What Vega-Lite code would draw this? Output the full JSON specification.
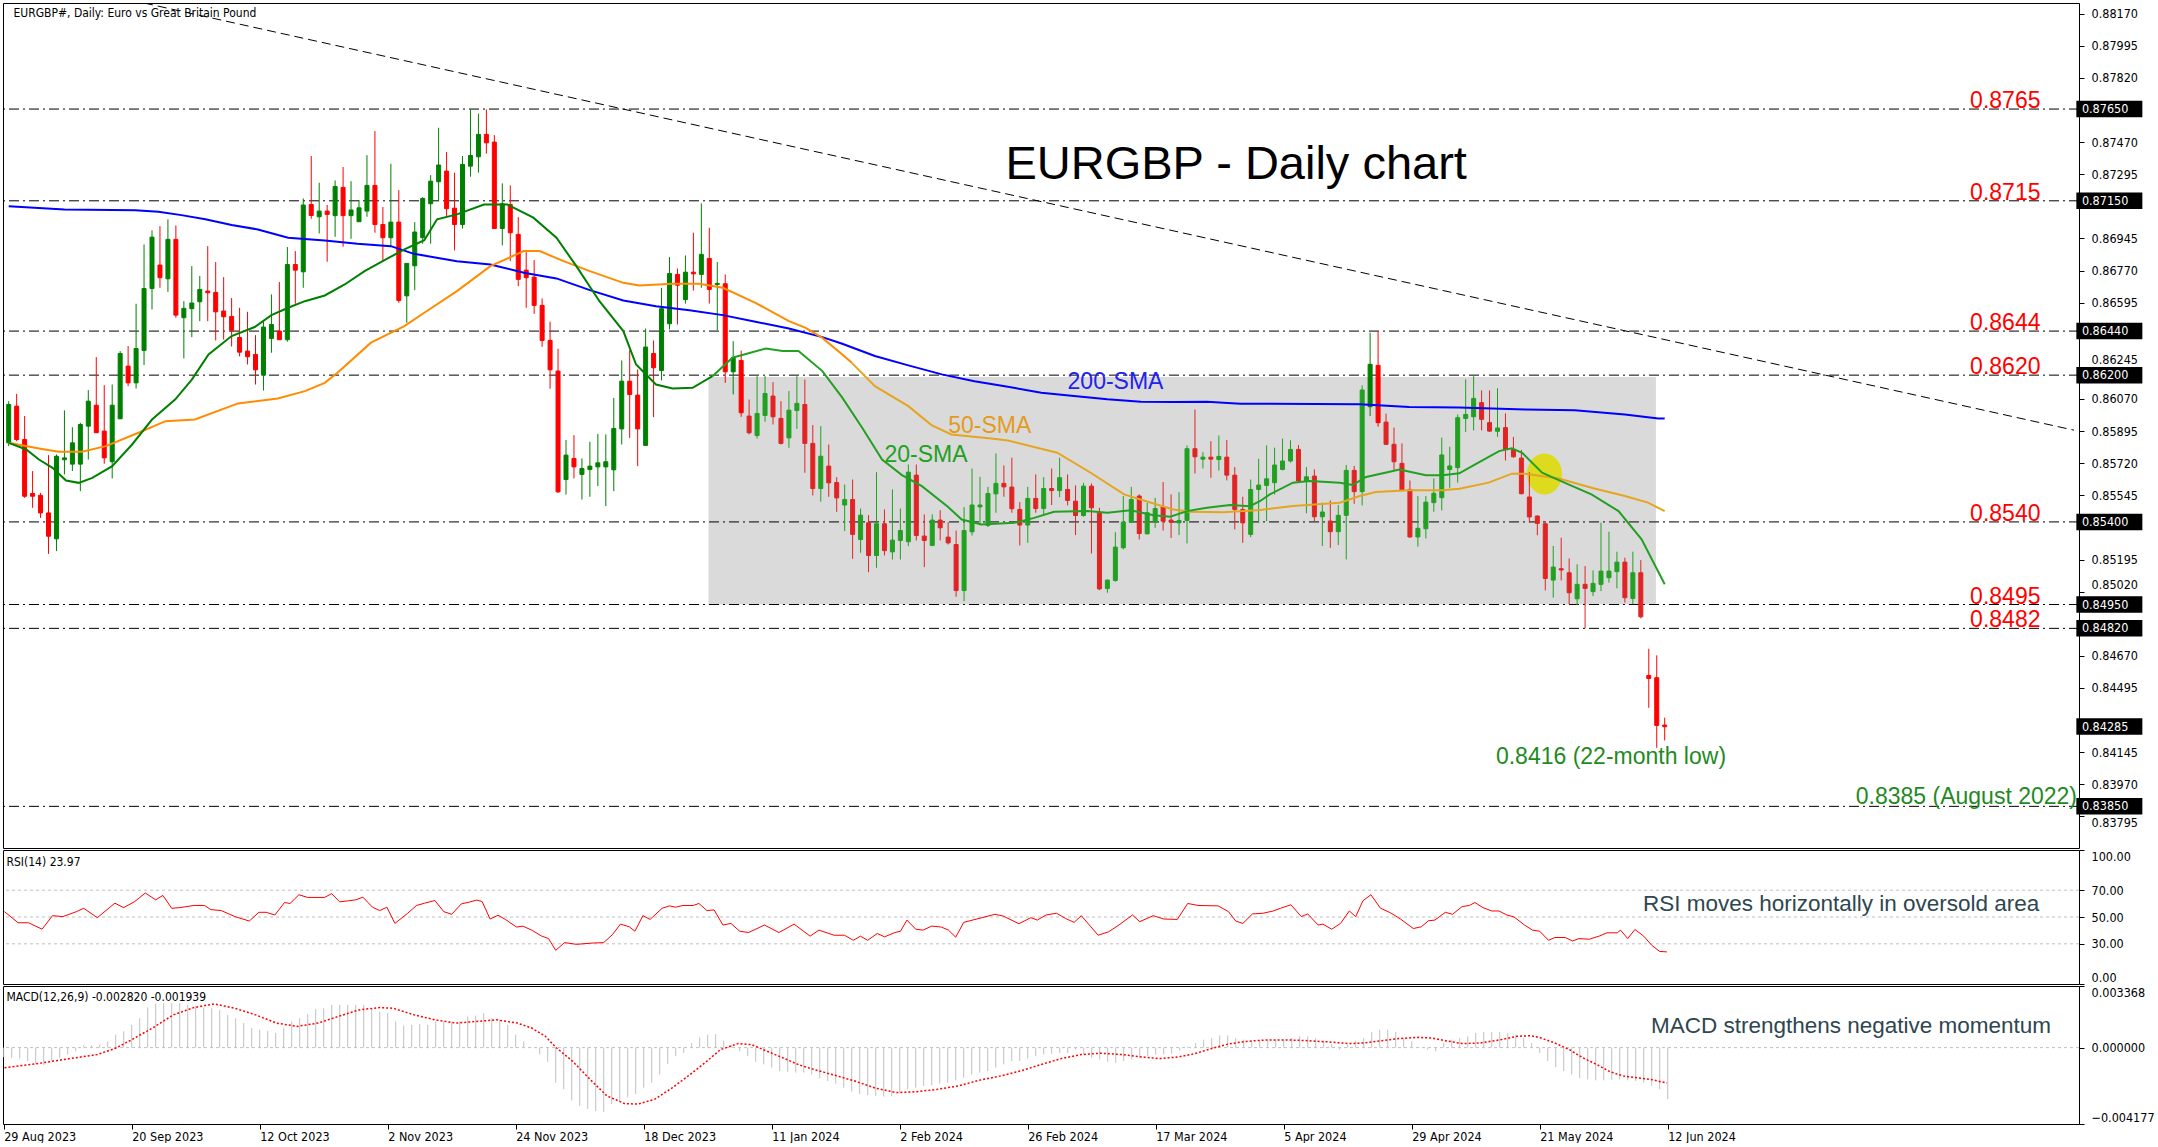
{
"$schema": "https://vega.github.io/schema/vega-lite/v6.json",
"padding": {"left": 2, "top": 2, "right": 0, "bottom": 0},
"background": "white",
"spacing": 2,
"bounds": "flush",
"config": {
 "view": {"stroke": "#000000", "strokeWidth": 1},
 "axis": {"labelFont": "DejaVu Sans Condensed, Liberation Sans Narrow, sans-serif", "labelFontSize": 12.5, "labelColor": "#000000", "tickColor": "#000000", "tickSize": 5, "labelPadding": 7, "domain": false, "grid": false, "labelOverlap": false, "labelBound": false},
 "text": {"font": "Liberation Sans"}
},
"datasets": {
 "c": [
{"i":0,"o":0.85831,"h":0.86058,"l":0.85813,"c":0.86040},{"i":1,"o":0.86031,"h":0.86098,"l":0.85840,"c":0.85849},{"i":2,"o":0.85849,"h":0.85977,"l":0.85531,"c":0.85540},{"i":3,"o":0.85555,"h":0.85677,"l":0.85477,"c":0.85540},{"i":4,"o":0.85545,"h":0.85558,"l":0.85422,"c":0.85449},
{"i":5,"o":0.85449,"h":0.85764,"l":0.85226,"c":0.85322},{"i":6,"o":0.85308,"h":0.85768,"l":0.85241,"c":0.85758},{"i":7,"o":0.85739,"h":0.86008,"l":0.85659,"c":0.85749},{"i":8,"o":0.85715,"h":0.85916,"l":0.85677,"c":0.85831},{"i":9,"o":0.85715,"h":0.85940,"l":0.85568,"c":0.85931},
{"i":10,"o":0.85922,"h":0.86118,"l":0.85740,"c":0.86058},{"i":11,"o":0.86036,"h":0.86298,"l":0.85886,"c":0.85886},{"i":12,"o":0.85895,"h":0.86145,"l":0.85717,"c":0.85749},{"i":13,"o":0.85728,"h":0.86149,"l":0.85637,"c":0.86036},{"i":14,"o":0.85962,"h":0.86331,"l":0.85962,"c":0.86318},
{"i":15,"o":0.86249,"h":0.86358,"l":0.86140,"c":0.86158},{"i":16,"o":0.86158,"h":0.86589,"l":0.86127,"c":0.86345},{"i":17,"o":0.86335,"h":0.86912,"l":0.86255,"c":0.86672},{"i":18,"o":0.86672,"h":0.86989,"l":0.86558,"c":0.86952},{"i":19,"o":0.86800,"h":0.87012,"l":0.86676,"c":0.86731},
{"i":20,"o":0.86725,"h":0.87049,"l":0.86654,"c":0.86940},{"i":21,"o":0.86940,"h":0.87016,"l":0.86513,"c":0.86527},{"i":22,"o":0.86513,"h":0.86603,"l":0.86291,"c":0.86564},{"i":23,"o":0.86562,"h":0.86794,"l":0.86407,"c":0.86593},{"i":24,"o":0.86600,"h":0.86740,"l":0.86494,"c":0.86667},
{"i":25,"o":0.86658,"h":0.86903,"l":0.86494,"c":0.86649},{"i":26,"o":0.86651,"h":0.86816,"l":0.86389,"c":0.86545},{"i":27,"o":0.86549,"h":0.86734,"l":0.86394,"c":0.86518},{"i":28,"o":0.86520,"h":0.86620,"l":0.86356,"c":0.86445},{"i":29,"o":0.86405,"h":0.86567,"l":0.86302,"c":0.86325},
{"i":30,"o":0.86331,"h":0.86545,"l":0.86258,"c":0.86300},{"i":31,"o":0.86313,"h":0.86418,"l":0.86149,"c":0.86229},{"i":32,"o":0.86200,"h":0.86498,"l":0.86116,"c":0.86462},{"i":33,"o":0.86400,"h":0.86640,"l":0.86322,"c":0.86476},{"i":34,"o":0.86440,"h":0.86707,"l":0.86393,"c":0.86393},
{"i":35,"o":0.86393,"h":0.86898,"l":0.86382,"c":0.86803},{"i":36,"o":0.86803,"h":0.86876,"l":0.86589,"c":0.86772},{"i":37,"o":0.86763,"h":0.87163,"l":0.86676,"c":0.87127},{"i":38,"o":0.87130,"h":0.87394,"l":0.87052,"c":0.87070},{"i":39,"o":0.87063,"h":0.87248,"l":0.86972,"c":0.87094},
{"i":40,"o":0.87094,"h":0.87127,"l":0.86818,"c":0.87076},{"i":41,"o":0.87069,"h":0.87261,"l":0.86954,"c":0.87228},{"i":42,"o":0.87223,"h":0.87334,"l":0.86900,"c":0.87069},{"i":43,"o":0.87069,"h":0.87257,"l":0.86943,"c":0.87100},{"i":44,"o":0.87036,"h":0.87154,"l":0.87036,"c":0.87112},
{"i":45,"o":0.87094,"h":0.87399,"l":0.87063,"c":0.87234},{"i":46,"o":0.87234,"h":0.87530,"l":0.86976,"c":0.87021},{"i":47,"o":0.87021,"h":0.87116,"l":0.86825,"c":0.86949},{"i":48,"o":0.86949,"h":0.87352,"l":0.86903,"c":0.87034},{"i":49,"o":0.87034,"h":0.87208,"l":0.86594,"c":0.86607},
{"i":50,"o":0.86632,"h":0.86809,"l":0.86485,"c":0.86809},{"i":51,"o":0.86796,"h":0.87034,"l":0.86663,"c":0.86980},{"i":52,"o":0.86949,"h":0.87170,"l":0.86916,"c":0.87163},{"i":53,"o":0.87134,"h":0.87290,"l":0.86916,"c":0.87257},{"i":54,"o":0.87254,"h":0.87548,"l":0.87148,"c":0.87345},
{"i":55,"o":0.87312,"h":0.87416,"l":0.87063,"c":0.87107},{"i":56,"o":0.87110,"h":0.87303,"l":0.86880,"c":0.87021},{"i":57,"o":0.87021,"h":0.87394,"l":0.86999,"c":0.87348},{"i":58,"o":0.87339,"h":0.87648,"l":0.87281,"c":0.87397},{"i":59,"o":0.87390,"h":0.87625,"l":0.87303,"c":0.87512},
{"i":60,"o":0.87512,"h":0.87648,"l":0.87407,"c":0.87466},{"i":61,"o":0.87470,"h":0.87508,"l":0.86999,"c":0.86999},{"i":62,"o":0.86999,"h":0.87245,"l":0.86907,"c":0.87134},{"i":63,"o":0.87130,"h":0.87234,"l":0.86821,"c":0.86976},{"i":64,"o":0.86967,"h":0.87061,"l":0.86685,"c":0.86722},
{"i":65,"o":0.86772,"h":0.86872,"l":0.86567,"c":0.86731},{"i":66,"o":0.86734,"h":0.86827,"l":0.86534,"c":0.86580},{"i":67,"o":0.86580,"h":0.86618,"l":0.86354,"c":0.86389},{"i":68,"o":0.86389,"h":0.86491,"l":0.86126,"c":0.86229},{"i":69,"o":0.86222,"h":0.86344,"l":0.85558,"c":0.85564},
{"i":70,"o":0.85631,"h":0.85846,"l":0.85549,"c":0.85764},{"i":71,"o":0.85746,"h":0.85873,"l":0.85637,"c":0.85700},{"i":72,"o":0.85659,"h":0.85746,"l":0.85522,"c":0.85691},{"i":73,"o":0.85686,"h":0.85837,"l":0.85537,"c":0.85704},{"i":74,"o":0.85700,"h":0.85880,"l":0.85595,"c":0.85722},
{"i":75,"o":0.85700,"h":0.85877,"l":0.85486,"c":0.85728},{"i":76,"o":0.85684,"h":0.86076,"l":0.85568,"c":0.85909},{"i":77,"o":0.85907,"h":0.86280,"l":0.85822,"c":0.86167},{"i":78,"o":0.86167,"h":0.86336,"l":0.85858,"c":0.86094},{"i":79,"o":0.86091,"h":0.86231,"l":0.85704,"c":0.85907},
{"i":80,"o":0.85817,"h":0.86454,"l":0.85817,"c":0.86353},{"i":81,"o":0.86318,"h":0.86389,"l":0.85971,"c":0.86240},{"i":82,"o":0.86225,"h":0.86676,"l":0.86171,"c":0.86562},{"i":83,"o":0.86480,"h":0.86843,"l":0.86449,"c":0.86754},{"i":84,"o":0.86749,"h":0.86781,"l":0.86476,"c":0.86690},
{"i":85,"o":0.86612,"h":0.86852,"l":0.86590,"c":0.86761},{"i":86,"o":0.86761,"h":0.86976,"l":0.86661,"c":0.86752},{"i":87,"o":0.86749,"h":0.87136,"l":0.86676,"c":0.86858},{"i":88,"o":0.86836,"h":0.87003,"l":0.86590,"c":0.86667},{"i":89,"o":0.86694,"h":0.86816,"l":0.86445,"c":0.86700},
{"i":90,"o":0.86698,"h":0.86749,"l":0.86158,"c":0.86218},{"i":91,"o":0.86218,"h":0.86385,"l":0.86095,"c":0.86295},{"i":92,"o":0.86280,"h":0.86334,"l":0.85973,"c":0.85995},{"i":93,"o":0.85977,"h":0.86067,"l":0.85877,"c":0.85886},{"i":94,"o":0.85871,"h":0.86195,"l":0.85855,"c":0.85991},
{"i":95,"o":0.85980,"h":0.86195,"l":0.85946,"c":0.86100},{"i":96,"o":0.86086,"h":0.86162,"l":0.85931,"c":0.85973},{"i":97,"o":0.85964,"h":0.86058,"l":0.85822,"c":0.85828},{"i":98,"o":0.85858,"h":0.86113,"l":0.85804,"c":0.86009},{"i":99,"o":0.86007,"h":0.86195,"l":0.85907,"c":0.86046},
{"i":100,"o":0.86040,"h":0.86176,"l":0.85668,"c":0.85828},{"i":101,"o":0.85828,"h":0.85928,"l":0.85544,"c":0.85582},{"i":102,"o":0.85582,"h":0.85922,"l":0.85510,"c":0.85758},{"i":103,"o":0.85704,"h":0.85822,"l":0.85537,"c":0.85613},{"i":104,"o":0.85615,"h":0.85644,"l":0.85455,"c":0.85531},
{"i":105,"o":0.85492,"h":0.85604,"l":0.85350,"c":0.85522},{"i":106,"o":0.85522,"h":0.85631,"l":0.85199,"c":0.85332},{"i":107,"o":0.85304,"h":0.85473,"l":0.85232,"c":0.85437},{"i":108,"o":0.85395,"h":0.85437,"l":0.85126,"c":0.85217},{"i":109,"o":0.85217,"h":0.85671,"l":0.85150,"c":0.85390},
{"i":110,"o":0.85390,"h":0.85468,"l":0.85217,"c":0.85244},{"i":111,"o":0.85237,"h":0.85577,"l":0.85195,"c":0.85301},{"i":112,"o":0.85299,"h":0.85473,"l":0.85195,"c":0.85353},{"i":113,"o":0.85292,"h":0.85713,"l":0.85268,"c":0.85671},{"i":114,"o":0.85655,"h":0.85713,"l":0.85299,"c":0.85326},
{"i":115,"o":0.85323,"h":0.85441,"l":0.85154,"c":0.85299},{"i":116,"o":0.85272,"h":0.85441,"l":0.85268,"c":0.85410},{"i":117,"o":0.85410,"h":0.85464,"l":0.85299,"c":0.85368},{"i":118,"o":0.85317,"h":0.85399,"l":0.85277,"c":0.85286},{"i":119,"o":0.85277,"h":0.85353,"l":0.84992,"c":0.85026},
{"i":120,"o":0.85026,"h":0.85481,"l":0.84968,"c":0.85353},{"i":121,"o":0.85346,"h":0.85691,"l":0.85326,"c":0.85492},{"i":122,"o":0.85482,"h":0.85646,"l":0.85381,"c":0.85492},{"i":123,"o":0.85381,"h":0.85591,"l":0.85372,"c":0.85555},{"i":124,"o":0.85553,"h":0.85773,"l":0.85450,"c":0.85610},
{"i":125,"o":0.85610,"h":0.85708,"l":0.85537,"c":0.85591},{"i":126,"o":0.85590,"h":0.85750,"l":0.85450,"c":0.85472},{"i":127,"o":0.85468,"h":0.85508,"l":0.85272,"c":0.85383},{"i":128,"o":0.85383,"h":0.85591,"l":0.85286,"c":0.85528},{"i":129,"o":0.85528,"h":0.85659,"l":0.85450,"c":0.85473},
{"i":130,"o":0.85473,"h":0.85644,"l":0.85435,"c":0.85582},{"i":131,"o":0.85582,"h":0.85691,"l":0.85492,"c":0.85571},{"i":132,"o":0.85571,"h":0.85750,"l":0.85535,"c":0.85641},{"i":133,"o":0.85577,"h":0.85659,"l":0.85490,"c":0.85517},{"i":134,"o":0.85513,"h":0.85599,"l":0.85328,"c":0.85435},
{"i":135,"o":0.85435,"h":0.85613,"l":0.85428,"c":0.85595},{"i":136,"o":0.85595,"h":0.85610,"l":0.85228,"c":0.85477},{"i":137,"o":0.85450,"h":0.85477,"l":0.85028,"c":0.85035},{"i":138,"o":0.85037,"h":0.85086,"l":0.85014,"c":0.85083},{"i":139,"o":0.85081,"h":0.85344,"l":0.85074,"c":0.85263},
{"i":140,"o":0.85259,"h":0.85541,"l":0.85250,"c":0.85399},{"i":141,"o":0.85399,"h":0.85591,"l":0.85395,"c":0.85522},{"i":142,"o":0.85541,"h":0.85550,"l":0.85304,"c":0.85337},{"i":143,"o":0.85335,"h":0.85504,"l":0.85332,"c":0.85450},{"i":144,"o":0.85399,"h":0.85531,"l":0.85368,"c":0.85473},
{"i":145,"o":0.85482,"h":0.85617,"l":0.85353,"c":0.85404},{"i":146,"o":0.85410,"h":0.85550,"l":0.85313,"c":0.85399},{"i":147,"o":0.85395,"h":0.85562,"l":0.85328,"c":0.85408},{"i":148,"o":0.85408,"h":0.85817,"l":0.85283,"c":0.85799},{"i":149,"o":0.85799,"h":0.86013,"l":0.85664,"c":0.85755},
{"i":150,"o":0.85742,"h":0.85780,"l":0.85691,"c":0.85753},{"i":151,"o":0.85753,"h":0.85840,"l":0.85641,"c":0.85742},{"i":152,"o":0.85740,"h":0.85871,"l":0.85680,"c":0.85757},{"i":153,"o":0.85753,"h":0.85846,"l":0.85626,"c":0.85655},{"i":154,"o":0.85655,"h":0.85699,"l":0.85359,"c":0.85468},
{"i":155,"o":0.85468,"h":0.85537,"l":0.85286,"c":0.85395},{"i":156,"o":0.85332,"h":0.85631,"l":0.85317,"c":0.85577},{"i":157,"o":0.85577,"h":0.85744,"l":0.85395,"c":0.85601},{"i":158,"o":0.85599,"h":0.85817,"l":0.85404,"c":0.85635},{"i":159,"o":0.85614,"h":0.85805,"l":0.85550,"c":0.85710},
{"i":160,"o":0.85686,"h":0.85854,"l":0.85681,"c":0.85732},{"i":161,"o":0.85732,"h":0.85845,"l":0.85723,"c":0.85795},{"i":162,"o":0.85795,"h":0.85819,"l":0.85614,"c":0.85623},{"i":163,"o":0.85623,"h":0.85699,"l":0.85447,"c":0.85646},{"i":164,"o":0.85650,"h":0.85686,"l":0.85405,"c":0.85428},
{"i":165,"o":0.85428,"h":0.85505,"l":0.85269,"c":0.85454},{"i":166,"o":0.85405,"h":0.85517,"l":0.85259,"c":0.85347},{"i":167,"o":0.85347,"h":0.85492,"l":0.85274,"c":0.85436},{"i":168,"o":0.85436,"h":0.85710,"l":0.85196,"c":0.85681},{"i":169,"o":0.85681,"h":0.85705,"l":0.85499,"c":0.85565},
{"i":170,"o":0.85565,"h":0.86144,"l":0.85490,"c":0.86119},{"i":171,"o":0.86028,"h":0.86431,"l":0.85977,"c":0.86259},{"i":172,"o":0.86253,"h":0.86439,"l":0.85919,"c":0.85941},{"i":173,"o":0.85944,"h":0.85990,"l":0.85819,"c":0.85823},{"i":174,"o":0.85823,"h":0.85914,"l":0.85677,"c":0.85728},
{"i":175,"o":0.85719,"h":0.85828,"l":0.85574,"c":0.85574},{"i":176,"o":0.85577,"h":0.85626,"l":0.85314,"c":0.85318},{"i":177,"o":0.85318,"h":0.85541,"l":0.85265,"c":0.85365},{"i":178,"o":0.85363,"h":0.85541,"l":0.85310,"c":0.85508},{"i":179,"o":0.85505,"h":0.85637,"l":0.85456,"c":0.85556},
{"i":180,"o":0.85532,"h":0.85859,"l":0.85463,"c":0.85765},{"i":181,"o":0.85686,"h":0.85810,"l":0.85586,"c":0.85705},{"i":182,"o":0.85696,"h":0.85986,"l":0.85614,"c":0.85968},{"i":183,"o":0.85964,"h":0.86177,"l":0.85890,"c":0.85986},{"i":184,"o":0.85973,"h":0.86197,"l":0.85899,"c":0.86073},
{"i":185,"o":0.86050,"h":0.86117,"l":0.85899,"c":0.85959},{"i":186,"o":0.85941,"h":0.86117,"l":0.85890,"c":0.85895},{"i":187,"o":0.85894,"h":0.86128,"l":0.85864,"c":0.85912},{"i":188,"o":0.85914,"h":0.85992,"l":0.85735,"c":0.85795},{"i":189,"o":0.85795,"h":0.85863,"l":0.85750,"c":0.85755},
{"i":190,"o":0.85748,"h":0.85792,"l":0.85550,"c":0.85554},{"i":191,"o":0.85536,"h":0.85672,"l":0.85396,"c":0.85427},{"i":192,"o":0.85432,"h":0.85436,"l":0.85327,"c":0.85392},{"i":193,"o":0.85390,"h":0.85405,"l":0.85027,"c":0.85092},{"i":194,"o":0.85083,"h":0.85269,"l":0.84987,"c":0.85154},
{"i":195,"o":0.85145,"h":0.85314,"l":0.85081,"c":0.85138},{"i":196,"o":0.85123,"h":0.85201,"l":0.84951,"c":0.85014},{"i":197,"o":0.84981,"h":0.85169,"l":0.84947,"c":0.85060},{"i":198,"o":0.85060,"h":0.85159,"l":0.84820,"c":0.85038},{"i":199,"o":0.85020,"h":0.85136,"l":0.84996,"c":0.85065},
{"i":200,"o":0.85060,"h":0.85396,"l":0.85023,"c":0.85132},{"i":201,"o":0.85096,"h":0.85347,"l":0.85069,"c":0.85132},{"i":202,"o":0.85129,"h":0.85238,"l":0.85038,"c":0.85181},{"i":203,"o":0.85181,"h":0.85205,"l":0.84960,"c":0.84987},{"i":204,"o":0.84983,"h":0.85238,"l":0.84951,"c":0.85123},
{"i":205,"o":0.85123,"h":0.85192,"l":0.84874,"c":0.84883},{"i":206,"o":0.84563,"h":0.84709,"l":0.84387,"c":0.84547},{"i":207,"o":0.84551,"h":0.84673,"l":0.84169,"c":0.84291},{"i":208,"o":0.84293,"h":0.84333,"l":0.84209,"c":0.84284}
 ],
 "s200": [
{"i":0,"v":0.87121},{"i":7,"v":0.87103},{"i":15.9,"v":0.87098},{"i":18.8,"v":0.87090},{"i":21.7,"v":0.87072},{"i":24.7,"v":0.87049},{"i":28,"v":0.87018},{"i":31.3,"v":0.86994},{"i":35.1,"v":0.86949},{"i":39.7,"v":0.86934},{"i":43.8,"v":0.86916},{"i":48,"v":0.86903},{"i":50.9,"v":0.86861},{"i":53.4,"v":0.86843},
{"i":56.3,"v":0.86821},{"i":60.5,"v":0.86803},{"i":64.7,"v":0.86758},{"i":68.8,"v":0.86727},{"i":73,"v":0.86663},{"i":77.2,"v":0.86607},{"i":81.3,"v":0.86576},{"i":85.5,"v":0.86554},{"i":89.7,"v":0.86527},{"i":93.8,"v":0.86491},{"i":98,"v":0.86454},{"i":102.2,"v":0.86407},{"i":104.7,"v":0.86371},
{"i":108.8,"v":0.86304},{"i":113,"v":0.86253},{"i":117.2,"v":0.86204},{"i":121.3,"v":0.86167},{"i":125.5,"v":0.86137},{"i":129.7,"v":0.86104},{"i":133.8,"v":0.86086},{"i":138,"v":0.86068},{"i":142.2,"v":0.86055},{"i":146.3,"v":0.86053},{"i":150.5,"v":0.86055},{"i":154.7,"v":0.86044},{"i":158.4,"v":0.86044},
{"i":169.7,"v":0.86041},{"i":175.9,"v":0.86026},{"i":182.2,"v":0.86023},{"i":190.5,"v":0.86013},{"i":196.7,"v":0.86008},{"i":203,"v":0.85986},{"i":207.2,"v":0.85964},{"i":208,"v":0.85963}
 ],
 "s50": [
{"i":0,"v":0.85831},{"i":3.8,"v":0.85800},{"i":6.3,"v":0.85782},{"i":9.2,"v":0.85782},{"i":12.2,"v":0.85813},{"i":16.3,"v":0.85886},{"i":19.7,"v":0.85949},{"i":23.4,"v":0.85958},{"i":28.8,"v":0.86046},{"i":33.8,"v":0.86073},{"i":37.2,"v":0.86113},{"i":39.7,"v":0.86158},{"i":41.3,"v":0.86213},{"i":45.5,"v":0.86377},{"i":49.7,"v":0.86467},
{"i":52.2,"v":0.86540},{"i":56.3,"v":0.86658},{"i":60.5,"v":0.86794},{"i":64.7,"v":0.86876},{"i":66.7,"v":0.86876},{"i":69.7,"v":0.86821},{"i":73,"v":0.86767},{"i":77.2,"v":0.86703},{"i":79.2,"v":0.86689},{"i":83.4,"v":0.86698},{"i":86.7,"v":0.86698},{"i":89.7,"v":0.86676},{"i":93.8,"v":0.86594},{"i":98,"v":0.86494},{"i":100.1,"v":0.86458},{"i":102.2,"v":0.86403},{"i":104.7,"v":0.86313},{"i":105.9,"v":0.86267},
{"i":108.8,"v":0.86140},{"i":113,"v":0.86031},{"i":115.9,"v":0.85928},{"i":118.4,"v":0.85877},{"i":123.4,"v":0.85855},{"i":125.5,"v":0.85844},{"i":131.7,"v":0.85777},{"i":135.9,"v":0.85668},{"i":140.1,"v":0.85550},{"i":144.2,"v":0.85495},{"i":146.3,"v":0.85468},{"i":148.4,"v":0.85455},{"i":152.6,"v":0.85453},{"i":157.2,"v":0.85465},
{"i":161.3,"v":0.85487},{"i":167.2,"v":0.85505},{"i":169.7,"v":0.85541},{"i":171.7,"v":0.85563},{"i":175.9,"v":0.85572},{"i":180.1,"v":0.85572},{"i":182.2,"v":0.85581},{"i":185.9,"v":0.85614},{"i":188.8,"v":0.85663},{"i":190.5,"v":0.85663},{"i":194.7,"v":0.85637},{"i":198.8,"v":0.85586},{"i":203,"v":0.85541},{"i":205.9,"v":0.85505},{"i":208,"v":0.85459}
 ],
 "s20": [
{"i":0,"v":0.85831},{"i":2.2,"v":0.85795},{"i":3.8,"v":0.85740},{"i":5.5,"v":0.85695},{"i":7.2,"v":0.85626},{"i":8.8,"v":0.85613},{"i":10.5,"v":0.85640},{"i":13,"v":0.85704},{"i":15.5,"v":0.85822},{"i":18,"v":0.85958},{"i":20.9,"v":0.86067},{"i":23,"v":0.86176},{"i":25.1,"v":0.86313},{"i":28,"v":0.86413},{"i":30.9,"v":0.86462},{"i":33,"v":0.86527},{"i":35.1,"v":0.86567},{"i":37.2,"v":0.86603},{"i":39.7,"v":0.86634},{"i":42.2,"v":0.86694},{"i":44.7,"v":0.86767},{"i":47.6,"v":0.86836},{"i":49.7,"v":0.86885},
{"i":52.2,"v":0.86935},{"i":53.8,"v":0.87049},{"i":56.3,"v":0.87076},{"i":59.7,"v":0.87130},{"i":62.6,"v":0.87130},{"i":65.9,"v":0.87058},{"i":68.8,"v":0.86949},{"i":71.3,"v":0.86794},{"i":74.2,"v":0.86603},{"i":77.2,"v":0.86440},{"i":78.8,"v":0.86258},{"i":81.3,"v":0.86149},{"i":83.4,"v":0.86127},{"i":85.9,"v":0.86131},{"i":88.4,"v":0.86194},{"i":90.9,"v":0.86295},{"i":95.1,"v":0.86345},{"i":97.2,"v":0.86331},{"i":99.2,"v":0.86331},{"i":102.2,"v":0.86222},{"i":104.7,"v":0.86077},
{"i":107.2,"v":0.85913},{"i":109.7,"v":0.85740},{"i":112.2,"v":0.85655},{"i":114.7,"v":0.85595},{"i":118,"v":0.85481},{"i":119.7,"v":0.85413},{"i":122.2,"v":0.85386},{"i":126.3,"v":0.85395},{"i":128.8,"v":0.85422},{"i":131.3,"v":0.85455},{"i":135.5,"v":0.85459},{"i":138,"v":0.85450},{"i":140.9,"v":0.85464},{"i":143.8,"v":0.85437},{"i":145.9,"v":0.85428},{"i":148,"v":0.85459},{"i":150.5,"v":0.85477},{"i":153.4,"v":0.85492},{"i":155.9,"v":0.85486},{"i":157.2,"v":0.85514},
{"i":158.4,"v":0.85550},{"i":161.3,"v":0.85614},{"i":163.4,"v":0.85623},{"i":167.2,"v":0.85614},{"i":168.8,"v":0.85601},{"i":170.5,"v":0.85645},{"i":174.7,"v":0.85686},{"i":178,"v":0.85655},{"i":180.1,"v":0.85654},{"i":182.2,"v":0.85665},{"i":184.2,"v":0.85714},{"i":187.2,"v":0.85786},{"i":188.8,"v":0.85801},{"i":190.1,"v":0.85777},{"i":192.6,"v":0.85668},{"i":195.9,"v":0.85605},{"i":198.8,"v":0.85550},{"i":202.2,"v":0.85459},{"i":205.1,"v":0.85305},{"i":208,"v":0.85060}
 ],
 "rsi": [
{"i":0.1,"v":54.0},{"i":1.8,"v":45.7},{"i":3.1,"v":45.7},{"i":4.8,"v":40.9},{"i":6.1,"v":51.0},{"i":7.4,"v":50.3},{"i":9.1,"v":54.0},{"i":10,"v":56.5},{"i":11.7,"v":49.5},{"i":13.9,"v":60.3},{"i":15,"v":57.0},{"i":16.4,"v":61.6},{"i":17.7,"v":67.9},{"i":19,"v":62.8},{"i":19.9,"v":66.1},{"i":21,"v":56.5},{"i":22,"v":57.0},{"i":23.8,"v":58.6},{"i":25.1,"v":58.6},{"i":25.9,"v":55.5},{"i":27.2,"v":54.8},{"i":28.9,"v":50.3},{"i":30.7,"v":47.0},{"i":31.9,"v":53.5},{"i":32.8,"v":53.5},{"i":33.9,"v":51.5},{"i":35.1,"v":60.8},{"i":35.8,"v":60.1},{"i":36.9,"v":66.6},{"i":38,"v":64.6},{"i":40.1,"v":64.6},{"i":41,"v":67.4},{"i":42,"v":61.3},{"i":43.1,"v":62.1},{"i":44,"v":62.8},{"i":44.9,"v":64.8},{"i":46.1,"v":57.3},{"i":47,"v":54.8},{"i":47.9,"v":57.3},{"i":48.9,"v":45.2},
{"i":50.5,"v":52.8},{"i":51.6,"v":58.6},{"i":52.6,"v":60.3},{"i":53.9,"v":62.3},{"i":55,"v":54.0},{"i":56,"v":52.0},{"i":57.2,"v":59.8},{"i":58.2,"v":61.1},{"i":59.1,"v":62.6},{"i":59.8,"v":61.6},{"i":60.8,"v":48.5},{"i":61.8,"v":51.3},{"i":62.7,"v":48.2},{"i":64.1,"v":42.5},{"i":64.9,"v":43.2},{"i":66,"v":40.2},{"i":67.2,"v":35.9},{"i":68.1,"v":33.9},{"i":69,"v":25.1},{"i":70.1,"v":30.9},{"i":71.6,"v":29.6},{"i":73.7,"v":30.6},{"i":75,"v":30.9},{"i":76.1,"v":36.9},{"i":77.1,"v":44.7},{"i":78.2,"v":42.7},{"i":78.9,"v":39.4},{"i":79.9,"v":51.0},{"i":80.8,"v":48.2},{"i":82.3,"v":56.5},{"i":83.2,"v":58.3},{"i":84,"v":57.3},{"i":84.9,"v":58.6},{"i":86.2,"v":58.6},{"i":86.9,"v":60.1},{"i":87.9,"v":54.8},{"i":88.8,"v":55.3},{"i":89.9,"v":44.0},
{"i":90.9,"v":45.2},{"i":92,"v":39.4},{"i":93.1,"v":38.4},{"i":95.1,"v":44.0},{"i":96.9,"v":38.4},{"i":98.8,"v":44.7},{"i":100.8,"v":35.7},{"i":101.9,"v":40.2},{"i":103.8,"v":36.4},{"i":105.1,"v":36.4},{"i":106.2,"v":32.6},{"i":107.1,"v":35.7},{"i":108,"v":32.6},{"i":109.2,"v":37.7},{"i":110.1,"v":35.2},{"i":111.4,"v":38.4},{"i":112.1,"v":39.4},{"i":112.9,"v":47.7},{"i":114,"v":40.9},{"i":114.9,"v":40.2},{"i":116,"v":43.2},{"i":117.2,"v":42.5},{"i":118.1,"v":40.2},{"i":119,"v":34.9},{"i":120,"v":46.0},{"i":121.1,"v":47.7},{"i":122.3,"v":49.5},{"i":123.9,"v":52.0},{"i":124.9,"v":50.8},{"i":126.9,"v":45.0},{"i":128.4,"v":49.5},{"i":129.2,"v":47.7},{"i":130.3,"v":51.5},{"i":131.6,"v":52.8},{"i":132.7,"v":49.0},{"i":133.8,"v":46.0},
{"i":134.7,"v":51.0},{"i":136.8,"v":36.4},{"i":138.1,"v":38.9},{"i":139.4,"v":44.0},{"i":141.1,"v":51.5},{"i":142,"v":46.5},{"i":143.7,"v":51.0},{"i":145,"v":48.5},{"i":146.7,"v":48.2},{"i":148,"v":60.1},{"i":149.3,"v":58.6},{"i":151.8,"v":58.3},{"i":153.1,"v":54.0},{"i":154,"v":47.0},{"i":154.9,"v":45.2},{"i":156.1,"v":52.3},{"i":157.4,"v":52.8},{"i":158.7,"v":54.5},{"i":159.6,"v":56.5},{"i":160.9,"v":59.1},{"i":162.2,"v":50.3},{"i":163,"v":52.3},{"i":164.3,"v":44.0},{"i":164.9,"v":44.7},{"i":166,"v":40.9},{"i":167.1,"v":45.2},{"i":168.2,"v":54.5},{"i":169,"v":50.3},{"i":169.9,"v":62.1},{"i":170.9,"v":66.6},{"i":172.1,"v":56.5},{"i":173.3,"v":53.3},{"i":174.6,"v":48.5},{"i":176.2,"v":41.4},{"i":177.2,"v":42.7},{"i":178.1,"v":47.2},{"i":178.9,"v":47.7},{"i":180.2,"v":53.5},
{"i":181.1,"v":52.0},{"i":182.3,"v":57.8},{"i":183.2,"v":58.6},{"i":183.9,"v":60.8},{"i":184.9,"v":57.0},{"i":186,"v":54.5},{"i":186.9,"v":54.5},{"i":187.9,"v":51.5},{"i":188.8,"v":50.0},{"i":190.1,"v":44.0},{"i":191.1,"v":40.2},{"i":192,"v":39.4},{"i":193.1,"v":32.6},{"i":193.9,"v":34.7},{"i":195.2,"v":34.7},{"i":196.1,"v":32.1},{"i":196.9,"v":33.9},{"i":198.2,"v":33.4},{"i":199.5,"v":35.9},{"i":200.4,"v":38.2},{"i":201.7,"v":38.2},{"i":202.1,"v":40.2},{"i":203,"v":33.9},{"i":203.9,"v":40.7},{"i":205,"v":35.7},{"i":206,"v":28.9},{"i":207,"v":24.3},{"i":207.9,"v":23.97}
 ],
 "hist": [
{"i":0,"v":-0.00052},{"i":1,"v":-0.00056},{"i":2,"v":-0.00060},{"i":3,"v":-0.00074},{"i":4,"v":-0.00089},{"i":5,"v":-0.00096},{"i":6,"v":-0.00074},{"i":7,"v":-0.00056},{"i":8,"v":-0.00038},{"i":9,"v":-0.00020},{"i":10,"v":0.00013},{"i":11,"v":0.00013},{"i":12,"v":0.00016},{"i":13,"v":0.00034},{"i":14,"v":0.00071},{"i":15,"v":0.00089},{"i":16,"v":0.00125},{"i":17,"v":0.00161},{"i":18,"v":0.00219},{"i":19,"v":0.00242},{"i":20,"v":0.00242},{"i":21,"v":0.00242},{"i":22,"v":0.00242},{"i":23,"v":0.00233},{"i":24,"v":0.00228},{"i":25,"v":0.00219},{"i":26,"v":0.00215},{"i":27,"v":0.00206},{"i":28,"v":0.00179},{"i":29,"v":0.00161},
{"i":30,"v":0.00134},{"i":31,"v":0.00107},{"i":32,"v":0.00098},{"i":33,"v":0.00092},{"i":34,"v":0.00080},{"i":35,"v":0.00107},{"i":36,"v":0.00143},{"i":37,"v":0.00161},{"i":38,"v":0.00183},{"i":39,"v":0.00210},{"i":40,"v":0.00215},{"i":41,"v":0.00233},{"i":42,"v":0.00233},{"i":43,"v":0.00233},{"i":44,"v":0.00233},{"i":45,"v":0.00233},{"i":46,"v":0.00215},{"i":47,"v":0.00197},{"i":48,"v":0.00188},{"i":49,"v":0.00143},{"i":50,"v":0.00121},{"i":51,"v":0.00125},{"i":52,"v":0.00128},{"i":53,"v":0.00125},{"i":54,"v":0.00143},{"i":55,"v":0.00143},{"i":56,"v":0.00143},{"i":57,"v":0.00143},{"i":58,"v":0.00170},{"i":59,"v":0.00175},
{"i":60,"v":0.00188},{"i":61,"v":0.00161},{"i":62,"v":0.00152},{"i":63,"v":0.00125},{"i":64,"v":0.00071},{"i":65,"v":0.00034},{"i":66,"v":-0.00002},{"i":67,"v":-0.00038},{"i":68,"v":-0.00078},{"i":69,"v":-0.00192},{"i":70,"v":-0.00228},{"i":71,"v":-0.00288},{"i":72,"v":-0.00318},{"i":73,"v":-0.00336},{"i":74,"v":-0.00346},{"i":75,"v":-0.00351},{"i":76,"v":-0.00309},{"i":77,"v":-0.00295},{"i":78,"v":-0.00273},{"i":79,"v":-0.00255},{"i":80,"v":-0.00219},{"i":81,"v":-0.00192},{"i":82,"v":-0.00147},{"i":83,"v":-0.00089},{"i":84,"v":-0.00047},{"i":85,"v":-0.00029},{"i":86,"v":0.00025},{"i":87,"v":0.00056},{"i":88,"v":0.00071},{"i":89,"v":0.00074},
{"i":90,"v":0.00038},{"i":91,"v":0.00016},{"i":92,"v":-0.00020},{"i":93,"v":-0.00047},{"i":94,"v":-0.00078},{"i":95,"v":-0.00092},{"i":96,"v":-0.00110},{"i":97,"v":-0.00128},{"i":98,"v":-0.00132},{"i":99,"v":-0.00137},{"i":100,"v":-0.00137},{"i":101,"v":-0.00147},{"i":102,"v":-0.00168},{"i":103,"v":-0.00183},{"i":104,"v":-0.00197},{"i":105,"v":-0.00219},{"i":106,"v":-0.00241},{"i":107,"v":-0.00255},{"i":108,"v":-0.00260},{"i":109,"v":-0.00264},{"i":110,"v":-0.00268},{"i":111,"v":-0.00266},{"i":112,"v":-0.00246},{"i":113,"v":-0.00228},{"i":114,"v":-0.00219},{"i":115,"v":-0.00210},{"i":116,"v":-0.00206},{"i":117,"v":-0.00197},{"i":118,"v":-0.00192},{"i":119,"v":-0.00179},
{"i":120,"v":-0.00165},{"i":121,"v":-0.00147},{"i":122,"v":-0.00137},{"i":123,"v":-0.00128},{"i":124,"v":-0.00110},{"i":125,"v":-0.00092},{"i":126,"v":-0.00074},{"i":127,"v":-0.00074},{"i":128,"v":-0.00060},{"i":129,"v":-0.00047},{"i":130,"v":-0.00038},{"i":131,"v":-0.00034},{"i":132,"v":-0.00029},{"i":133,"v":-0.00029},{"i":134,"v":-0.00011},{"i":135,"v":-0.00038},{"i":136,"v":-0.00056},{"i":137,"v":-0.00065},{"i":138,"v":-0.00078},{"i":139,"v":-0.00083},{"i":140,"v":-0.00074},{"i":141,"v":-0.00065},{"i":142,"v":-0.00052},{"i":143,"v":-0.00047},{"i":144,"v":-0.00038},{"i":145,"v":-0.00038},{"i":146,"v":-0.00034},{"i":147,"v":-0.00016},{"i":148,"v":0.00005},{"i":149,"v":0.00025},
{"i":150,"v":0.00043},{"i":151,"v":0.00052},{"i":152,"v":0.00067},{"i":153,"v":0.00067},{"i":154,"v":0.00052},{"i":155,"v":0.00043},{"i":156,"v":0.00038},{"i":157,"v":0.00040},{"i":158,"v":0.00040},{"i":159,"v":0.00042},{"i":160,"v":0.00043},{"i":161,"v":0.00052},{"i":162,"v":0.00062},{"i":163,"v":0.00062},{"i":164,"v":0.00052},{"i":165,"v":0.00038},{"i":166,"v":0.00020},{"i":167,"v":-0.00011},{"i":168,"v":0.00016},{"i":169,"v":0.00038},{"i":170,"v":0.00052},{"i":171,"v":0.00085},{"i":172,"v":0.00098},{"i":173,"v":0.00098},{"i":174,"v":0.00085},{"i":175,"v":0.00052},{"i":176,"v":0.00034},{"i":177,"v":0.00002},{"i":178,"v":-0.00011},{"i":179,"v":-0.00020},
{"i":180,"v":0.00025},{"i":181,"v":0.00043},{"i":182,"v":0.00052},{"i":183,"v":0.00062},{"i":184,"v":0.00080},{"i":185,"v":0.00085},{"i":186,"v":0.00085},{"i":187,"v":0.00085},{"i":188,"v":0.00080},{"i":189,"v":0.00071},{"i":190,"v":0.00052},{"i":191,"v":0.00025},{"i":192,"v":-0.00029},{"i":193,"v":-0.00074},{"i":194,"v":-0.00107},{"i":195,"v":-0.00128},{"i":196,"v":-0.00147},{"i":197,"v":-0.00168},{"i":198,"v":-0.00174},{"i":199,"v":-0.00179},{"i":200,"v":-0.00179},{"i":201,"v":-0.00175},{"i":202,"v":-0.00174},{"i":203,"v":-0.00179},{"i":204,"v":-0.00183},{"i":205,"v":-0.00192},{"i":206,"v":-0.00210},{"i":207,"v":-0.00228},{"i":208,"v":-0.00282}
 ],
 "sig": [
{"i":0.1,"v":-0.00110},{"i":4,"v":-0.00089},{"i":8.3,"v":-0.00060},{"i":11.7,"v":-0.00038},{"i":13.9,"v":-0.00005},{"i":16,"v":0.00043},{"i":18.6,"v":0.00107},{"i":21.2,"v":0.00179},{"i":23.8,"v":0.00219},{"i":26.3,"v":0.00239},{"i":28.9,"v":0.00215},{"i":31.5,"v":0.00179},{"i":34.1,"v":0.00134},{"i":36.7,"v":0.00116},{"i":39.3,"v":0.00134},{"i":41.8,"v":0.00170},{"i":44.4,"v":0.00206},{"i":47,"v":0.00219},{"i":48.7,"v":0.00215},{"i":51.3,"v":0.00179},{"i":53.9,"v":0.00152},{"i":56.5,"v":0.00134},{"i":59.1,"v":0.00143},{"i":61.6,"v":0.00152},{"i":64.2,"v":0.00134},{"i":66,"v":0.00107},{"i":67.7,"v":0.00062},{"i":69,"v":0.00002},
{"i":71.1,"v":-0.00074},{"i":73.3,"v":-0.00174},{"i":75.4,"v":-0.00264},{"i":77.6,"v":-0.00306},{"i":79.3,"v":-0.00309},{"i":81.4,"v":-0.00282},{"i":83.6,"v":-0.00219},{"i":85.8,"v":-0.00147},{"i":87.9,"v":-0.00074},{"i":89.6,"v":-0.00011},{"i":91.8,"v":0.00022},{"i":93.5,"v":0.00016},{"i":95.2,"v":-0.00016},{"i":97.4,"v":-0.00056},{"i":99.5,"v":-0.00096},{"i":101.7,"v":-0.00125},{"i":103.8,"v":-0.00150},{"i":106.4,"v":-0.00183},{"i":109,"v":-0.00222},{"i":111.6,"v":-0.00246},{"i":114.2,"v":-0.00241},{"i":116.7,"v":-0.00228},{"i":119.3,"v":-0.00210},{"i":121.9,"v":-0.00179},{"i":124.5,"v":-0.00156},{"i":127.1,"v":-0.00128},{"i":129.7,"v":-0.00092},{"i":132.2,"v":-0.00060},
{"i":134.7,"v":-0.00038},{"i":137.2,"v":-0.00031},{"i":139.8,"v":-0.00038},{"i":142.4,"v":-0.00052},{"i":144.5,"v":-0.00060},{"i":146.7,"v":-0.00052},{"i":148.8,"v":-0.00034},{"i":151,"v":-0.00005},{"i":153.1,"v":0.00020},{"i":155.3,"v":0.00034},{"i":157.9,"v":0.00042},{"i":160.4,"v":0.00042},{"i":163,"v":0.00038},{"i":165.6,"v":0.00031},{"i":168.2,"v":0.00022},{"i":169.9,"v":0.00025},{"i":171.6,"v":0.00034},{"i":174.2,"v":0.00049},{"i":176.8,"v":0.00056},{"i":178.5,"v":0.00052},{"i":180.2,"v":0.00038},{"i":182.3,"v":0.00022},{"i":184.5,"v":0.00025},{"i":187.1,"v":0.00043},{"i":189.2,"v":0.00062},{"i":190.9,"v":0.00065},{"i":192.2,"v":0.00052},{"i":193.9,"v":0.00025},{"i":195.7,"v":-0.00011},{"i":197.4,"v":-0.00056},{"i":199.1,"v":-0.00092},{"i":200.8,"v":-0.00132},{"i":202.5,"v":-0.00156},{"i":204.2,"v":-0.00165},{"i":205.9,"v":-0.00174},{"i":207.9,"v":-0.00194}
 ],
 "lv": [{"p":0.8765,"t":"0.8765"},{"p":0.8715,"t":"0.8715"},{"p":0.8644,"t":"0.8644"},{"p":0.8620,"t":"0.8620"},{"p":0.8540,"t":"0.8540"},{"p":0.8495,"t":"0.8495"},{"p":0.8482,"t":"0.8482"},{"p":0.8385,"t":""}],
 "hl": [{"p":0.8765,"t":"0.87650"},{"p":0.8715,"t":"0.87150"},{"p":0.8644,"t":"0.86440"},{"p":0.8620,"t":"0.86200"},{"p":0.8540,"t":"0.85400"},{"p":0.8495,"t":"0.84950"},{"p":0.8482,"t":"0.84820"},{"p":0.84285,"t":"0.84285"},{"p":0.8385,"t":"0.83850"}]
},
"vconcat": [
{
 "width": 2076, "height": 845,
 "resolve": {"axis": {"x": "independent", "y": "independent"}},
 "layer": [
  {"data": {"values": [{"a": 87.9, "b": 206.9, "lo": 0.8495, "hi": 0.8619}]},
   "mark": {"type": "rect", "color": "#DADADA"},
   "encoding": {
    "x": {"field": "a", "type": "quantitative", "scale": {"domain": [-0.0875, 259.41], "nice": false, "zero": false}, "axis": null},
    "x2": {"field": "b"},
    "y": {"field": "lo", "type": "quantitative", "scale": {"domain": [0.83623, 0.88228], "nice": false, "zero": false}, "axis": null},
    "y2": {"field": "hi"}}},
  {"data": {"name": "lv"},
   "mark": {"type": "rule", "color": "#000000", "strokeWidth": 1, "strokeDash": [10, 4, 2, 4]},
   "encoding": {
    "y": {"field": "p", "type": "quantitative", "scale": {"domain": [0.83623, 0.88228], "nice": false, "zero": false},
      "axis": {"orient": "right", "title": null, "values": [0.83795,0.8397,0.84145,0.8432,0.84495,0.8467,0.84845,0.8502,0.85195,0.8537,0.85545,0.8572,0.85895,0.8607,0.86245,0.8642,0.86595,0.8677,0.86945,0.8712,0.87295,0.8747,0.87645,0.8782,0.87995,0.8817], "format": ".5f",
        "labelExpr": "indexof(['0.87645','0.87120','0.86420','0.85370','0.84845','0.84320'], datum.label) >= 0 ? '' : datum.label",
        "labelBaseline": {"condition": [{"test": "datum.value == 0.86245 || datum.value == 0.8502", "value": "bottom"}, {"test": "datum.value == 0.83795", "value": "top"}], "value": "middle"}}}}},
  {"data": {"values": [{"i": 17, "v": 0.88228}, {"i": 259.41, "v": 0.8590}]},
   "mark": {"type": "line", "color": "#000000", "strokeWidth": 1, "strokeDash": [9, 5], "clip": true},
   "encoding": {
    "x": {"field": "i", "type": "quantitative", "scale": {"domain": [-0.0875, 259.41], "nice": false, "zero": false}, "axis": null},
    "y": {"field": "v", "type": "quantitative", "scale": {"domain": [0.83623, 0.88228], "nice": false, "zero": false}, "axis": null}}},
  {"data": {"values": [{"i": 192.9, "v": 0.85661}]},
   "mark": {"type": "point", "filled": true, "opacity": 1, "color": "#DEDA1E", "size": 1681, "shape": "M-0.85,0 A0.85,1 0 1,0 0.85,0 A0.85,1 0 1,0 -0.85,0 Z"},
   "encoding": {
    "x": {"field": "i", "type": "quantitative", "scale": {"domain": [-0.0875, 259.41], "nice": false, "zero": false}, "axis": null},
    "y": {"field": "v", "type": "quantitative", "scale": {"domain": [0.83623, 0.88228], "nice": false, "zero": false}, "axis": null}}},
  {"data": {"name": "c"},
   "mark": {"type": "rule", "strokeWidth": 1, "clip": true},
   "encoding": {
    "x": {"field": "i", "type": "quantitative", "scale": {"domain": [-0.0875, 259.41], "nice": false, "zero": false}, "axis": null},
    "y": {"field": "l", "type": "quantitative", "scale": {"domain": [0.83623, 0.88228], "nice": false, "zero": false}, "axis": null},
    "y2": {"field": "h"},
    "color": {"condition": [
      {"test": "datum.i>=88 && datum.i<=206 && max(datum.o,datum.c)<=0.8621 && min(datum.o,datum.c)>=0.8488 && datum.c>=datum.o", "value": "#22A022"},
      {"test": "datum.i>=88 && datum.i<=206 && max(datum.o,datum.c)<=0.8621 && min(datum.o,datum.c)>=0.8488", "value": "#E02424"},
      {"test": "datum.c>=datum.o", "value": "#008000"}], "value": "#FF0000"}}},
  {"data": {"name": "c"},
   "mark": {"type": "bar", "width": 4, "strokeWidth": 1, "clip": true},
   "encoding": {
    "x": {"field": "i", "type": "quantitative", "scale": {"domain": [-0.0875, 259.41], "nice": false, "zero": false}, "axis": null},
    "y": {"field": "o", "type": "quantitative", "scale": {"domain": [0.83623, 0.88228], "nice": false, "zero": false}, "axis": null},
    "y2": {"field": "c"},
    "fill": {"condition": [
      {"test": "datum.i>=88 && datum.i<=206 && max(datum.o,datum.c)<=0.8621 && min(datum.o,datum.c)>=0.8488 && datum.c>=datum.o", "value": "#22A022"},
      {"test": "datum.i>=88 && datum.i<=206 && max(datum.o,datum.c)<=0.8621 && min(datum.o,datum.c)>=0.8488", "value": "#E02424"},
      {"test": "datum.c>=datum.o", "value": "#008000"}], "value": "#FF0000"},
    "stroke": {"condition": [
      {"test": "datum.i>=88 && datum.i<=206 && max(datum.o,datum.c)<=0.8621 && min(datum.o,datum.c)>=0.8488 && datum.c>=datum.o", "value": "#22A022"},
      {"test": "datum.i>=88 && datum.i<=206 && max(datum.o,datum.c)<=0.8621 && min(datum.o,datum.c)>=0.8488", "value": "#E02424"},
      {"test": "datum.c>=datum.o", "value": "#008000"}], "value": "#FF0000"}}},
  {"data": {"name": "s200"},
   "mark": {"type": "line", "color": "#0000FF", "strokeWidth": 2, "clip": true},
   "encoding": {
    "x": {"field": "i", "type": "quantitative", "scale": {"domain": [-0.0875, 259.41], "nice": false, "zero": false}, "axis": null},
    "y": {"field": "v", "type": "quantitative", "scale": {"domain": [0.83623, 0.88228], "nice": false, "zero": false}, "axis": null}}},
  {"data": {"name": "s50"},
   "transform": [{"filter": "datum.i <= 106"}],
   "mark": {"type": "line", "color": "#FF8C00", "strokeWidth": 2, "clip": true},
   "encoding": {
    "x": {"field": "i", "type": "quantitative", "scale": {"domain": [-0.0875, 259.41], "nice": false, "zero": false}, "axis": null},
    "y": {"field": "v", "type": "quantitative", "scale": {"domain": [0.83623, 0.88228], "nice": false, "zero": false}, "axis": null}}},
  {"data": {"name": "s50"},
   "transform": [{"filter": "datum.i >= 105.9"}],
   "mark": {"type": "line", "color": "#E5A520", "strokeWidth": 2, "clip": true},
   "encoding": {
    "x": {"field": "i", "type": "quantitative", "scale": {"domain": [-0.0875, 259.41], "nice": false, "zero": false}, "axis": null},
    "y": {"field": "v", "type": "quantitative", "scale": {"domain": [0.83623, 0.88228], "nice": false, "zero": false}, "axis": null}}},
  {"data": {"name": "s20"},
   "transform": [{"filter": "datum.i <= 88.4"}],
   "mark": {"type": "line", "color": "#008000", "strokeWidth": 2, "clip": true},
   "encoding": {
    "x": {"field": "i", "type": "quantitative", "scale": {"domain": [-0.0875, 259.41], "nice": false, "zero": false}, "axis": null},
    "y": {"field": "v", "type": "quantitative", "scale": {"domain": [0.83623, 0.88228], "nice": false, "zero": false}, "axis": null}}},
  {"data": {"name": "s20"},
   "transform": [{"filter": "datum.i >= 88.4"}],
   "mark": {"type": "line", "color": "#22A022", "strokeWidth": 2, "clip": true},
   "encoding": {
    "x": {"field": "i", "type": "quantitative", "scale": {"domain": [-0.0875, 259.41], "nice": false, "zero": false}, "axis": null},
    "y": {"field": "v", "type": "quantitative", "scale": {"domain": [0.83623, 0.88228], "nice": false, "zero": false}, "axis": null}}},
  {"data": {"name": "lv"},
   "mark": {"type": "text", "color": "#FF0000", "fontSize": 23, "align": "right", "baseline": "alphabetic", "dy": -1},
   "encoding": {
    "x": {"datum": 255.2, "type": "quantitative", "scale": {"domain": [-0.0875, 259.41], "nice": false, "zero": false}, "axis": null},
    "y": {"field": "p", "type": "quantitative", "scale": {"domain": [0.83623, 0.88228], "nice": false, "zero": false}, "axis": null},
    "text": {"field": "t"}}},
  {"data": {"values": [{"i": 125.2, "v": 0.87269, "t": "EURGBP - Daily chart"}]},
   "mark": {"type": "text", "color": "#000000", "fontSize": 47, "align": "left", "baseline": "alphabetic"},
   "encoding": {
    "x": {"field": "i", "type": "quantitative", "scale": {"domain": [-0.0875, 259.41], "nice": false, "zero": false}, "axis": null},
    "y": {"field": "v", "type": "quantitative", "scale": {"domain": [0.83623, 0.88228], "nice": false, "zero": false}, "axis": null},
    "text": {"field": "t"}}},
  {"data": {"values": [{"i": 133.0, "v": 0.86124, "t": "200-SMA"}]},
   "mark": {"type": "text", "color": "#2222EE", "fontSize": 23, "align": "left", "baseline": "alphabetic"},
   "encoding": {
    "x": {"field": "i", "type": "quantitative", "scale": {"domain": [-0.0875, 259.41], "nice": false, "zero": false}, "axis": null},
    "y": {"field": "v", "type": "quantitative", "scale": {"domain": [0.83623, 0.88228], "nice": false, "zero": false}, "axis": null},
    "text": {"field": "t"}}},
  {"data": {"values": [{"i": 118.0, "v": 0.85884, "t": "50-SMA"}]},
   "mark": {"type": "text", "color": "#E49B1C", "fontSize": 23, "align": "left", "baseline": "alphabetic"},
   "encoding": {
    "x": {"field": "i", "type": "quantitative", "scale": {"domain": [-0.0875, 259.41], "nice": false, "zero": false}, "axis": null},
    "y": {"field": "v", "type": "quantitative", "scale": {"domain": [0.83623, 0.88228], "nice": false, "zero": false}, "axis": null},
    "text": {"field": "t"}}},
  {"data": {"values": [{"i": 110.0, "v": 0.85726, "t": "20-SMA"}]},
   "mark": {"type": "text", "color": "#22A022", "fontSize": 23, "align": "left", "baseline": "alphabetic"},
   "encoding": {
    "x": {"field": "i", "type": "quantitative", "scale": {"domain": [-0.0875, 259.41], "nice": false, "zero": false}, "axis": null},
    "y": {"field": "v", "type": "quantitative", "scale": {"domain": [0.83623, 0.88228], "nice": false, "zero": false}, "axis": null},
    "text": {"field": "t"}}},
  {"data": {"values": [{"i": 186.8, "v": 0.84080, "t": "0.8416 (22-month low)"}, {"i": 232.0, "v": 0.83862, "t": "0.8385 (August 2022)"}]},
   "mark": {"type": "text", "color": "#1F8A1F", "fontSize": 23, "align": "left", "baseline": "alphabetic"},
   "encoding": {
    "x": {"field": "i", "type": "quantitative", "scale": {"domain": [-0.0875, 259.41], "nice": false, "zero": false}, "axis": null},
    "y": {"field": "v", "type": "quantitative", "scale": {"domain": [0.83623, 0.88228], "nice": false, "zero": false}, "axis": null},
    "text": {"field": "t"}}},
  {"data": {"values": [{"i": 0.6, "v": 0.88151, "t": "EURGBP#, Daily:  Euro vs Great Britain Pound"}]},
   "mark": {"type": "text", "color": "#000000", "font": "DejaVu Sans Condensed, Liberation Sans Narrow, sans-serif", "fontSize": 12, "align": "left", "baseline": "alphabetic"},
   "encoding": {
    "x": {"field": "i", "type": "quantitative", "scale": {"domain": [-0.0875, 259.41], "nice": false, "zero": false}, "axis": null},
    "y": {"field": "v", "type": "quantitative", "scale": {"domain": [0.83623, 0.88228], "nice": false, "zero": false}, "axis": null},
    "text": {"field": "t"}}},
  {"data": {"name": "hl"},
   "mark": {"type": "point", "filled": true, "opacity": 1, "color": "#000000", "size": 4356, "shape": "M-1,-0.25 L1,-0.25 L1,0.25 L-1,0.25 Z"},
   "encoding": {
    "x": {"datum": 263.85, "type": "quantitative", "scale": {"domain": [-0.0875, 259.41], "nice": false, "zero": false}, "axis": null},
    "y": {"field": "p", "type": "quantitative", "scale": {"domain": [0.83623, 0.88228], "nice": false, "zero": false}, "axis": null}}},
  {"data": {"name": "hl"},
   "mark": {"type": "text", "color": "#FFFFFF", "font": "DejaVu Sans Condensed, Liberation Sans Narrow, sans-serif", "fontSize": 12.5, "align": "left", "baseline": "middle"},
   "encoding": {
    "x": {"datum": 260.4, "type": "quantitative", "scale": {"domain": [-0.0875, 259.41], "nice": false, "zero": false}, "axis": null},
    "y": {"field": "p", "type": "quantitative", "scale": {"domain": [0.83623, 0.88228], "nice": false, "zero": false}, "axis": null},
    "text": {"field": "t"}}}
 ]
},
{
 "width": 2076, "height": 134,
 "resolve": {"axis": {"x": "independent", "y": "independent"}},
 "layer": [
  {"data": {"values": [{"v": 30}, {"v": 50}, {"v": 70}]},
   "mark": {"type": "rule", "color": "#C0C0C0", "strokeWidth": 1, "strokeDash": [3, 3]},
   "encoding": {
    "y": {"field": "v", "type": "quantitative", "scale": {"domain": [0, 100], "nice": false, "zero": false},
      "axis": {"orient": "right", "title": null, "values": [0, 30, 50, 70, 100], "format": ".2f", "labelFlush": true, "labelFlushOffset": 0}}}},
  {"data": {"name": "rsi"},
   "mark": {"type": "line", "color": "#FF0000", "strokeWidth": 1, "clip": true},
   "encoding": {
    "x": {"field": "i", "type": "quantitative", "scale": {"domain": [-0.0875, 259.41], "nice": false, "zero": false}, "axis": null},
    "y": {"field": "v", "type": "quantitative", "scale": {"domain": [0, 100], "nice": false, "zero": false}, "axis": null}}},
  {"data": {"values": [{"i": 0.35, "v": 88.0, "t": "RSI(14) 23.97"}]},
   "mark": {"type": "text", "color": "#000000", "font": "DejaVu Sans Condensed, Liberation Sans Narrow, sans-serif", "fontSize": 12, "align": "left", "baseline": "alphabetic"},
   "encoding": {
    "x": {"field": "i", "type": "quantitative", "scale": {"domain": [-0.0875, 259.41], "nice": false, "zero": false}, "axis": null},
    "y": {"field": "v", "type": "quantitative", "scale": {"domain": [0, 100], "nice": false, "zero": false}, "axis": null},
    "text": {"field": "t"}}},
  {"data": {"values": [{"i": 204.9, "v": 54.5, "t": "RSI moves horizontally in oversold area"}]},
   "mark": {"type": "text", "color": "#2E4650", "fontSize": 22.5, "align": "left", "baseline": "alphabetic"},
   "encoding": {
    "x": {"field": "i", "type": "quantitative", "scale": {"domain": [-0.0875, 259.41], "nice": false, "zero": false}, "axis": null},
    "y": {"field": "v", "type": "quantitative", "scale": {"domain": [0, 100], "nice": false, "zero": false}, "axis": null},
    "text": {"field": "t"}}}
 ]
},
{
 "width": 2076, "height": 138,
 "resolve": {"axis": {"x": "independent", "y": "independent"}},
 "layer": [
  {"data": {"values": [{"v": 0}]},
   "mark": {"type": "rule", "color": "#C0C0C0", "strokeWidth": 1, "strokeDash": [3, 3]},
   "encoding": {
    "y": {"field": "v", "type": "quantitative", "scale": {"domain": [-0.004177, 0.003368], "nice": false, "zero": false},
      "axis": {"orient": "right", "title": null, "values": [-0.004177, 0, 0.003368], "format": ".6f", "labelFlush": true, "labelFlushOffset": 0}}}},
  {"data": {"name": "hist"},
   "mark": {"type": "rule", "color": "#C0C0C0", "strokeWidth": 1, "clip": true},
   "encoding": {
    "x": {"field": "i", "type": "quantitative", "scale": {"domain": [-0.0875, 259.41], "nice": false, "zero": false},
      "axis": {"orient": "bottom", "title": null, "values": [0, 16, 32, 48, 64, 80, 96, 112, 128, 144, 160, 176, 192, 208], "labelExpr": "['29 Aug 2023','20 Sep 2023','12 Oct 2023','2 Nov 2023','24 Nov 2023','18 Dec 2023','11 Jan 2024','2 Feb 2024','26 Feb 2024','17 Mar 2024','5 Apr 2024','29 Apr 2024','21 May 2024','12 Jun 2024'][round(datum.value/16)]", "labelAlign": "left", "labelFlush": false, "tickSize": 5, "labelPadding": 1}},
    "y": {"field": "v", "type": "quantitative", "scale": {"domain": [-0.004177, 0.003368], "nice": false, "zero": false}, "axis": null},
    "y2": {"datum": 0}}},
  {"data": {"name": "sig"},
   "mark": {"type": "line", "color": "#FF0000", "strokeWidth": 1.5, "strokeDash": [2, 2], "clip": true},
   "encoding": {
    "x": {"field": "i", "type": "quantitative", "scale": {"domain": [-0.0875, 259.41], "nice": false, "zero": false}, "axis": null},
    "y": {"field": "v", "type": "quantitative", "scale": {"domain": [-0.004177, 0.003368], "nice": false, "zero": false}, "axis": null}}},
  {"data": {"values": [{"i": 0.35, "v": 0.00255, "t": "MACD(12,26,9) -0.002820 -0.001939"}]},
   "mark": {"type": "text", "color": "#000000", "font": "DejaVu Sans Condensed, Liberation Sans Narrow, sans-serif", "fontSize": 12, "align": "left", "baseline": "alphabetic"},
   "encoding": {
    "x": {"field": "i", "type": "quantitative", "scale": {"domain": [-0.0875, 259.41], "nice": false, "zero": false}, "axis": null},
    "y": {"field": "v", "type": "quantitative", "scale": {"domain": [-0.004177, 0.003368], "nice": false, "zero": false}, "axis": null},
    "text": {"field": "t"}}},
  {"data": {"values": [{"i": 205.9, "v": 0.000799, "t": "MACD strengthens negative momentum"}]},
   "mark": {"type": "text", "color": "#2E4650", "fontSize": 22.5, "align": "left", "baseline": "alphabetic"},
   "encoding": {
    "x": {"field": "i", "type": "quantitative", "scale": {"domain": [-0.0875, 259.41], "nice": false, "zero": false}, "axis": null},
    "y": {"field": "v", "type": "quantitative", "scale": {"domain": [-0.004177, 0.003368], "nice": false, "zero": false}, "axis": null},
    "text": {"field": "t"}}}
 ]
}
]
}
